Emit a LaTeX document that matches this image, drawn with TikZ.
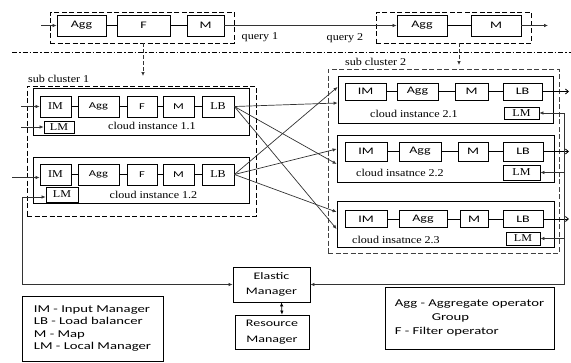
\documentclass[tikz,border=0pt]{standalone}
\usepackage{fontspec}
\usepackage{tikz}
\usetikzlibrary{arrows.meta,positioning}
\newfontfamily\sansx[FakeStretch=1.4]{Carlito}
\newfontfamily\serifx[FakeStretch=1.15]{Liberation Serif}
\tikzset{
  opbox/.style={draw, line width=0.8pt, inner sep=0pt, minimum height=21pt, font=\sansx\fontsize{10}{12}\selectfont},
  opsmall/.style={opbox, font=\sansx\fontsize{9}{11}\selectfont},
  opser/.style={opbox, font=\serifx\fontsize{10.5}{12}\selectfont},
  lmbox/.style={draw, line width=0.8pt, inner sep=0pt, font=\serifx\fontsize{10.5}{12}\selectfont},
  cloudbox/.style={draw, line width=0.8pt, inner sep=0pt},
  grpbox/.style={draw, line width=0.8pt, dash pattern=on 5pt off 2.5pt, inner sep=0pt},
  tag/.style={inner sep=0pt, font=\serifx\fontsize{10.5}{12}\selectfont},
  legbox/.style={draw, line width=0.8pt, inner sep=0pt, align=left, font=\sansx\fontsize{10.5}{12.4}\selectfont},
  mgrbox/.style={draw, line width=0.8pt, inner sep=0pt, align=center, font=\sansx\fontsize{10}{15.5}\selectfont},
  flow/.style={-{Latex[length=4pt,width=3.5pt]}, line width=0.7pt, draw=black!80},
  dflow/.style={flow, dash pattern=on 4pt off 2pt},
  oflow/.style={-{Straight Barb[length=3pt,width=5pt]}, line width=0.8pt},
  sepline/.style={line width=0.7pt, dash pattern=on 5pt off 2pt on 1.5pt off 2pt}
}
\begin{document}
\begin{tikzpicture}[x=1pt,y=1pt,yscale=-1,xscale=1]
\useasboundingbox (0,0) rectangle (571,362);
%Query 1
\node[grpbox, minimum width=184, minimum height=31] (q1grp) at (142,27.5) {};
\node[opbox, minimum width=49] (q1agg) at (81.5,25.5) {Agg};
\node[opbox, minimum width=53] (q1f) at (143.5,25.5) {F};
\node[opbox, minimum width=37] (q1m) at (205.5,25.5) {M};
\coordinate (q1in) at (41,25.5);
\draw[flow] (q1in) -- (q1agg);
\draw (q1agg) -- (q1f);
\draw (q1f) -- (q1m);
% Text Node
\node[tag] (q1lbl) at (260,37) {query 1};
%Query 2
\node[grpbox, minimum width=155, minimum height=31] (q2grp) at (453.5,27.5) {};
\node[opbox, minimum width=50] (q2agg) at (422,25.5) {Agg};
\node[opbox, minimum width=50] (q2m) at (496,25.5) {M};
\coordinate (q2out) at (548,25.5);
\draw[flow] (q1m) -- (q2agg);
\draw (q2agg) -- (q2m);
\draw[flow] (q2m) -- (q2out);
% Text Node
\node[tag] (q2lbl) at (345,38) {query 2};
%Separator
\coordinate (sepl) at (12,52);
\coordinate (sepr) at (571,52);
\draw[sepline] (sepl) -- (sepr);
%Deployment arrows
\coordinate (dep1) at (143,76);
\coordinate (dep2) at (459,65);
\draw[dflow] (q1grp.south -| dep1) -- (dep1);
\draw[dflow] (q2grp.south -| dep2) -- (dep2);

%Sub cluster 1
\node[grpbox, minimum width=229, minimum height=130] (sc1) at (141.5,151) {};
\node[tag, anchor=west] (sc1lbl) at (28,79) {sub cluster 1};
%Cloud instance 1.1
\node[cloudbox, minimum width=216, minimum height=47] (ci11) at (141,111.5) {};
\node[opser, minimum width=31] (im11) at (55.5,106.5) {IM};
\node[opsmall, minimum width=41] (agg11) at (98.5,106.5) {Agg};
\node[opsmall, minimum width=30] (f11) at (142,106.5) {F};
\node[opsmall, minimum width=31] (m11) at (178.5,106.5) {M};
\node[opser, minimum width=32] (lb11) at (218,106.5) {LB};
\node[lmbox, minimum width=30, minimum height=12] (lm11) at (59,127) {LM};
\node[tag] (ci11lbl) at (152,126) {cloud instance 1.1};
\draw (im11) -- (agg11);
\draw (agg11) -- (f11);
\draw (f11) -- (m11);
\draw (m11) -- (lb11);
\coordinate (in11) at (21,106.5);
\coordinate (inlm11) at (21,127);
\draw[flow] (in11) -- (im11);
\draw[flow] (inlm11) -- (lm11);
%Cloud instance 1.2
\node[cloudbox, minimum width=216, minimum height=46] (ci12) at (141,180) {};
\node[opser, minimum width=31] (im12) at (55.5,174.5) {IM};
\node[opsmall, minimum width=41] (agg12) at (98.5,174.5) {Agg};
\node[opsmall, minimum width=30] (f12) at (142,174.5) {F};
\node[opsmall, minimum width=31] (m12) at (178.5,174.5) {M};
\node[opser, minimum width=32] (lb12) at (218,174.5) {LB};
\node[lmbox, minimum width=32, minimum height=15] (lm12) at (62,194.5) {LM};
\node[tag] (ci12lbl) at (153.5,195) {cloud instance 1.2};
\draw (im12) -- (agg12);
\draw (agg12) -- (f12);
\draw (f12) -- (m12);
\draw (m12) -- (lb12);
\coordinate (in12) at (12,177.5);
\draw[flow] (in12) -- (in12 -| im12.west);

%Sub cluster 2
\node[grpbox, draw=black!75, minimum width=231, minimum height=184] (sc2) at (443.5,161) {};
\node[tag, anchor=west] (sc2lbl) at (345,62) {sub cluster 2};
%Cloud instance 2.1
\node[cloudbox, minimum width=215, minimum height=47] (ci21) at (445.5,99.5) {};
\node[opbox, minimum width=41, minimum height=17] (im21) at (365.5,91.5) {IM};
\node[opbox, minimum width=41, minimum height=17] (agg21) at (417.5,91.5) {Agg};
\node[opbox, minimum width=33, minimum height=17] (m21) at (471.5,91.5) {M};
\node[opbox, minimum width=39, minimum height=17] (lb21) at (522.5,91.5) {LB};
\node[lmbox, minimum width=35, minimum height=12] (lm21) at (521.5,113) {LM};
\node[tag] (ci21lbl) at (414,114) {cloud instance 2.1};
\draw (im21) -- (agg21);
\draw (agg21) -- (m21);
\draw (m21) -- (lb21);
%Cloud instance 2.2
\node[cloudbox, minimum width=217, minimum height=47] (ci22) at (445.5,158.5) {};
\node[opbox, minimum width=42, minimum height=19] (im22) at (366,151.5) {IM};
\node[opbox, minimum width=42, minimum height=19] (agg22) at (420,151.5) {Agg};
\node[opbox, minimum width=30, minimum height=19] (m22) at (473,151.5) {M};
\node[opbox, minimum width=40, minimum height=19] (lb22) at (523,151.5) {LB};
\node[lmbox, minimum width=37, minimum height=15] (lm22) at (521.5,172.5) {LM};
\node[tag] (ci22lbl) at (400,173) {cloud insatnce 2.2};
\draw (im22) -- (agg22);
\draw (agg22) -- (m22);
\draw (m22) -- (lb22);
%Cloud instance 2.3
\node[cloudbox, minimum width=217, minimum height=46] (ci23) at (445.5,224) {};
\node[opbox, minimum width=42, minimum height=17] (im23) at (366,219) {IM};
\node[opbox, minimum width=48, minimum height=17] (agg23) at (423,219) {Agg};
\node[opbox, minimum width=28, minimum height=17] (m23) at (474,219) {M};
\node[opbox, minimum width=40, minimum height=17] (lb23) at (523,219) {LB};
\node[lmbox, minimum width=34, minimum height=13] (lm23) at (523,238.5) {LM};
\node[tag] (ci23lbl) at (396,240) {cloud insatnce 2.3};
\draw (im23) -- (agg23);
\draw (agg23) -- (m23);
\draw (m23) -- (lb23);
%Outputs
\coordinate (out21) at (569,91.5);
\coordinate (out22) at (569,151.5);
\coordinate (out23) at (569,219);
\draw[oflow] (lb21) -- (out21);
\draw[oflow] (lb22) -- (out22);
\draw[oflow] (lb23) -- (out23);

%Load balancing between clusters
\draw[flow] (lb11.east) -- ([yshift=3.5pt]ci21.west);
\draw[flow] (lb11.east) -- ([yshift=5.5pt]ci22.west);
\draw[flow] (lb11.east) -- ([yshift=5pt]ci23.west);
\draw[flow] (lb12.east) -- ([yshift=-12.5pt]ci21.west);
\draw[flow] (lb12.east) -- ([yshift=-9.5pt]ci22.west);
\draw[flow] (lb12.east) -- ([yshift=-12pt]ci23.west);

%Managers
\node[mgrbox, minimum width=77, minimum height=35] (em) at (271.5,284.5) {Elastic\\Manager};
\node[mgrbox, minimum width=74, minimum height=34] (rm) at (272,332) {Resource\\Manager};
\draw[{Latex[length=4pt,width=3.5pt]}-{Latex[length=4pt,width=3.5pt]}, line width=0.7pt] ([xshift=10pt]em.south) -- ([xshift=10pt]rm.north);
%Local manager links
\coordinate (lmbus) at (22,197);
\draw[flow, {Latex[length=4pt,width=3.5pt]}-{Latex[length=4pt,width=3.5pt]}] (lmbus -| lm12.west) -- (lmbus) -- (lmbus |- em.west) -- (em.west);
\coordinate (bus) at (564,113);
\draw[flow] (bus) -- (bus |- em.east) -- (em.east);
\draw[flow] (bus) -- (lm21);
\draw[flow] (bus |- lm22) -- (lm22);
\draw[flow] (bus |- lm23) -- (lm23);

%Legends
\node[legbox, minimum width=141, minimum height=65] (leg1) at (92.5,328.5) {IM - Input Manager\\LB - Load balancer\\M - Map\\LM - Local Manager};
\node[legbox, minimum width=169, minimum height=62, font=\sansx\fontsize{10.5}{14}\selectfont] (leg2) at (469.5,318) {Agg - Aggregate operator\\\hspace*{37pt}Group\\F - Filter operator};
\end{tikzpicture}
\end{document}
